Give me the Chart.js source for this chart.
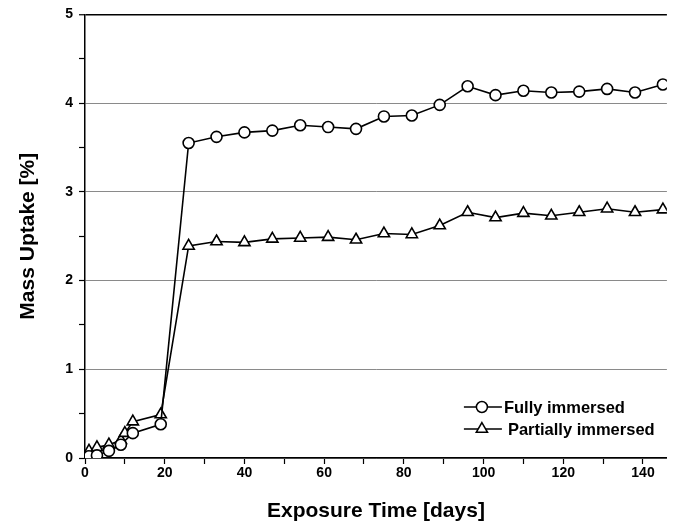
<!DOCTYPE html>
<html>
<head>
<meta charset="utf-8">
<script src="https://cdn.jsdelivr.net/npm/chart.js@4.4.0/dist/chart.umd.min.js"></script>
<style>
    body { margin: 0; background: #fff; }
    canvas { display: block; }
</style>
</head>
<body>
<canvas id="chartMassa" width="675" height="528"></canvas>
<script>
// Absorção de massa ao longo do tempo de exposição
const fullyDays = [1, 3, 6, 9, 12, 19, 26, 33, 40, 47, 54, 61, 68, 75, 82, 89, 96, 103, 110, 117, 124, 131, 138, 145];
const fullyMass = [0.02, 0.03, 0.08, 0.15, 0.28, 0.38, 3.55, 3.62, 3.67, 3.69, 3.75, 3.73, 3.71, 3.85, 3.86, 3.98, 4.19, 4.09, 4.14, 4.12, 4.13, 4.16, 4.12, 4.21];

const partDays = [1, 3, 6, 9, 10, 12, 19, 26, 33, 40, 47, 54, 61, 68, 75, 82, 89, 96, 103, 110, 117, 124, 131, 138, 145];
const partMass = [0.08, 0.12, 0.15, 0.2, 0.28, 0.41, 0.49, 2.39, 2.44, 2.43, 2.47, 2.48, 2.49, 2.46, 2.53, 2.52, 2.62, 2.77, 2.71, 2.76, 2.73, 2.77, 2.81, 2.77, 2.8];

const seriesLabels = ['Fully immersed', 'Partially immersed'];
const xTicksLabeled = [0, 20, 40, 60, 80, 100, 120, 140];
const yTicksLabeled = [0, 1, 2, 3, 4, 5];

const fonte = 'Arial, "Liberation Sans", sans-serif';

// desenha o ponto com fundo branco (usado também na legenda)
const pontoBranco = {
    id: 'pontoBranco',
    beforeInit() {
        const original = Chart.helpers.drawPoint;
        Chart.helpers.drawPoint = function (ctx, opts, x, y) {
            ctx.fillStyle = '#fff';
            ctx.strokeStyle = '#000';
            ctx.lineWidth = 1.5;
            original(ctx, opts, x, y);
        };
    }
};

// legenda desenhada dentro da área do gráfico
const legendaInterna = {
    id: 'legendaInterna',
    afterDraw(chart) {
        const ctx = chart.ctx;
        const area = chart.chartArea;
        const x0 = area.right - 203;
        chart.data.datasets.forEach(function (ds, i) {
            const y = area.bottom - 51 + i * 22;
            ctx.save();
            ctx.strokeStyle = '#000';
            ctx.lineWidth = 1.5;
            ctx.beginPath();
            ctx.moveTo(x0, y);
            ctx.lineTo(x0 + 38, y);
            ctx.stroke();
            Chart.helpers.drawPoint(ctx, {
                pointStyle: ds.pointStyle,
                radius: ds.pointRadius,
                borderWidth: 1.5
            }, x0 + 18, y);
            ctx.restore();
            ctx.save();
            ctx.fillStyle = '#000';
            ctx.font = 'bold 16.5px ' + fonte;
            ctx.textBaseline = 'middle';
            ctx.fillText(ds.label, x0 + 40 + i * 4, y + 1);
            ctx.restore();
        });
    }
};

new Chart(document.getElementById('chartMassa'), {
    type: 'line',
    data: {
        datasets: [{
            label: seriesLabels[0],
            data: fullyDays.map((d, i) => ({ x: d, y: fullyMass[i] })),
            borderColor: '#000',
            borderWidth: 1.6,
            pointStyle: 'circle',
            pointRadius: 5.5,
            pointBackgroundColor: '#fff',
            pointBorderColor: '#000',
            pointBorderWidth: 1.6,
            tension: 0
        }, {
            label: seriesLabels[1],
            data: partDays.map((d, i) => ({ x: d, y: partMass[i] })),
            borderColor: '#000',
            borderWidth: 1.6,
            pointStyle: 'triangle',
            pointRadius: 6.5,
            pointBackgroundColor: '#fff',
            pointBorderColor: '#000',
            pointBorderWidth: 1.6,
            tension: 0
        }]
    },
    options: {
        responsive: false,
        animation: false,
        layout: {
            padding: { left: 8, right: 7, top: 13, bottom: 4 }
        },
        scales: {
            x: {
                type: 'linear',
                min: 0,
                max: 146,
                border: { color: '#000', width: 1.5 },
                grid: {
                    drawOnChartArea: false,
                    tickLength: 6,
                    tickColor: '#000',
                    tickWidth: 1.2
                },
                ticks: {
                    stepSize: 10,
                    includeBounds: false,
                    autoSkip: false,
                    maxRotation: 0,
                    color: '#000',
                    padding: 1,
                    font: { family: fonte, size: 14, weight: 'bold' },
                    callback: v => xTicksLabeled.includes(v) ? v : ''
                },
                title: {
                    display: true,
                    text: 'Exposure Time [days]',
                    color: '#000',
                    padding: { top: 14, bottom: 0 },
                    font: { family: fonte, size: 21, weight: 'bold' }
                },
                afterFit: s => { s.height = 66; }
            },
            y: {
                min: 0,
                max: 5,
                border: { color: '#000', width: 1.5 },
                grid: {
                    color: c => c.tick.value === 5 ? '#000' : (Number.isInteger(c.tick.value) ? '#8a8a8a' : 'rgba(0,0,0,0)'),
                    lineWidth: c => c.tick.value === 5 ? 1.5 : 1,
                    tickLength: 6,
                    tickColor: '#000',
                    tickWidth: 1.2
                },
                ticks: {
                    stepSize: 0.5,
                    color: '#000',
                    padding: 6,
                    font: { family: fonte, size: 14, weight: 'bold' },
                    callback: v => yTicksLabeled.includes(v) ? v : ''
                },
                title: {
                    display: true,
                    text: 'Mass Uptake [%]',
                    color: '#000',
                    padding: { top: 8, bottom: 8 },
                    font: { family: fonte, size: 21, weight: 'bold' }
                },
                afterFit: s => { s.width = 77; }
            }
        },
        plugins: {
            legend: { display: false },
            tooltip: { enabled: false }
        }
    },
    plugins: [pontoBranco, legendaInterna]
});
</script>
</body>
</html>
